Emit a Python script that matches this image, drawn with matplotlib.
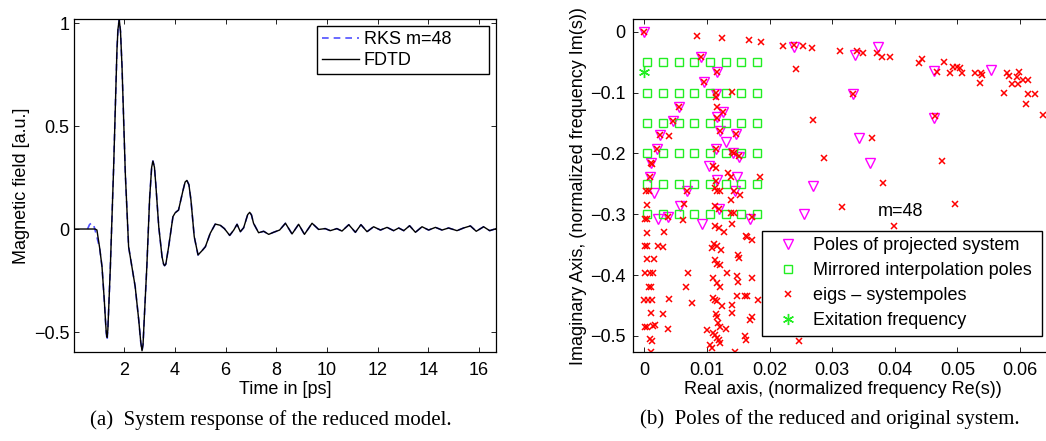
import numpy as np
import matplotlib
matplotlib.use('Agg')
import matplotlib.pyplot as plt

plt.rcParams['font.family'] = ['Liberation Sans', 'DejaVu Sans']
plt.rcParams['font.size'] = 13

## left plot: time signal
fdtd_t = [0.0, 0.55, 0.85, 0.92, 1.03, 1.12, 1.21, 1.26, 1.29, 1.32, 1.35, 1.38, 1.45, 1.58, 1.71, 1.75,
          1.80, 1.85, 1.91, 2.04, 2.17, 2.30, 2.43, 2.57, 2.65, 2.70, 2.74, 2.79, 2.89, 3.00, 3.08,
          3.13, 3.19, 3.24, 3.36, 3.49, 3.55, 3.59, 3.64, 3.75, 3.92, 4.01, 4.14, 4.32, 4.40, 4.47,
          4.55, 4.63, 4.76, 4.91, 5.07, 5.20, 5.39, 5.59, 5.79,
          5.95, 6.16, 6.32, 6.45, 6.58, 6.71, 6.87, 6.95, 7.02, 7.10, 7.30, 7.50, 7.70, 7.89, 8.13, 8.36,
          8.62, 8.88, 9.11, 9.41, 9.67, 9.93, 10.13, 10.39, 10.59, 10.86, 11.12, 11.34, 11.58,
          11.84, 12.11, 12.37, 12.63, 12.83, 13.03, 13.26, 13.49, 13.75, 14.01, 14.28, 14.54,
          14.80, 15.13, 15.39, 15.66, 15.89, 16.18, 16.42, 16.68]
fdtd_field = [0.0, 0.0, 0.0, -0.005, -0.094, -0.183, -0.345, -0.45, -0.505, -0.526, -0.49, -0.40, -0.183, 0.303, 0.869, 0.97,
              1.018, 0.96, 0.788, 0.270, -0.086, -0.183, -0.280, -0.442, -0.55, -0.591, -0.56, -0.43, -0.18, 0.15, 0.30,
              0.330, 0.30, 0.222, 0.011, -0.135, -0.170, -0.178, -0.170, -0.086, 0.060, 0.079, 0.092, 0.189, 0.228, 0.236,
              0.215, 0.141, -0.037, -0.126, -0.105, -0.086, -0.021, 0.024, 0.018,
              0.002, -0.031, -0.005, 0.023, -0.013, 0.006, 0.070, 0.081, 0.068, 0.028, -0.018, -0.011, -0.026, -0.016, -0.005, 0.028,
              -0.024, 0.023, -0.026, 0.028, -0.002, 0.002, -0.008, 0.002, -0.010, 0.021, -0.016, 0.021, -0.013,
              0.011, -0.005, 0.008, -0.008, 0.005, -0.008, 0.016, -0.016, 0.011, -0.005, 0.008, -0.005,
              0.005, -0.008, 0.005, 0.015, -0.011, 0.011, -0.008, 0.002]

# RKS differs only at the start and at the first minimum
rks_head_t = [0.55, 0.63, 0.72, 0.80, 0.88]
rks_head = [0.0, 0.022, 0.03, 0.015, -0.02]
rks_min_t = 1.32
rks_min = -0.54

## right plot: poles
proj_re = [0.0, 0.00905, 0.01155, 0.00953, 0.01144, 0.00559, 0.01251, 0.01166, 0.00463, 0.01208,
           0.0025, 0.01464, 0.01304, 0.00197, 0.01144, 0.01411, 0.01517, 0.00106, 0.01038, 0.0009,
           0.01155, 0.01485, 0.00154, 0.00676, 0.01453, 0.02688, 0.0057, 0.01198, 0.00224, 0.00383,
           0.00916, 0.01687, 0.0255, 0.0239, 0.0374, 0.0336, 0.0334, 0.0343, 0.0360, 0.0463,
           0.0463, 0.0554]
proj_im = [0.0, -0.041, -0.067, -0.082, -0.102, -0.124, -0.132, -0.140, -0.146, -0.163,
           -0.170, -0.168, -0.181, -0.193, -0.193, -0.200, -0.206, -0.216, -0.220, -0.238,
           -0.243, -0.239, -0.2645, -0.261, -0.261, -0.2535, -0.286, -0.292, -0.308, -0.305,
           -0.316, -0.307, -0.300, -0.0246, -0.0257, -0.0383, -0.103, -0.175, -0.215, -0.064,
           -0.141, -0.063]

mirror_re = [0.0005, 0.003, 0.0055, 0.008, 0.0105, 0.013, 0.0155, 0.018]
mirror_im = [-0.05, -0.1, -0.15, -0.2, -0.25, -0.3]

eigs_re = [0.0, 0.00846, 0.01235, 0.01671, 0.01858, 0.0222, 0.0239, 0.0253, 0.0268, 0.00905,
           0.01155, 0.0242, 0.00953, 0.01144, 0.01144, 0.01395, 0.00559, 0.01166, 0.01251, 0.01166,
           0.02688, 0.00463, 0.01208, 0.0025, 0.00399, 0.01464, 0.00197, 0.01144, 0.01395, 0.01437,
           0.01517, 0.0287, 0.00106, 0.00128, 0.0110, 0.01144, 0.0133, 0.01847, 0.0009, 0.01144,
           0.01384, 0.00027, 0.00069, 0.00676, 0.01128, 0.01166, 0.01208, 0.01437, 0.01528, 0.01379,
           0.00048, 0.00633, 0.01128, 0.01198, 0.01384, 0.01432, 0.0001, 0.00048, 0.00383, 0.00623,
           0.01714, 0.01395, 0.01128, 0.01198, 0.01278, 0.00048, 0.00319, 0.01618, 0.01645, 0.01725,
           0.0001, 0.00048, 0.00224, 0.00293, 0.01075, 0.01113, 0.01166, 0.01219, 0.00048, 0.00154,
           0.01128, 0.01166, 0.01208, 0.0149, 0.01512, 0.0001, 0.0009, 0.00144, 0.00692, 0.01325,
           0.0110, 0.01485, 0.01501, 0.01725, 0.01166, 0.01208, 0.00075, 0.00101, 0.00665, 0.0,
           0.00064, 0.00128, 0.00394, 0.00756, 0.0110, 0.01128, 0.01166, 0.01235, 0.01405, 0.01474,
           0.01608, 0.01645, 0.0182, 0.00101, 0.00303, 0.01144, 0.01166, 0.01395, 0.01687, 0.01714,
           0.0001, 0.00037, 0.00133, 0.0017, 0.00373, 0.00995, 0.01171, 0.01208, 0.01299, 0.0110,
           0.01128, 0.0009, 0.00117, 0.01166, 0.01198, 0.01208, 0.01608, 0.01618, 0.01049, 0.01086,
           0.00101, 0.01448, 0.0247, 0.0296, 0.0315, 0.0363, 0.0381, 0.0398, 0.0475, 0.0496,
           0.03125, 0.0339, 0.035, 0.0372, 0.0379, 0.0393, 0.0334, 0.0438, 0.0443, 0.0478,
           0.0467, 0.0464, 0.0488, 0.0493, 0.0499, 0.0504, 0.0508, 0.0528, 0.0537, 0.0539,
           0.0536, 0.0579, 0.0583, 0.0595, 0.0599, 0.0588, 0.0597, 0.0605, 0.0612, 0.0574,
           0.0613, 0.0624, 0.0610, 0.0637]
eigs_im = [0.0, -0.0066, -0.0099, -0.0137, -0.0164, -0.023, -0.0219, -0.023, -0.0263, -0.041,
           -0.067, -0.0613, -0.082, -0.101, -0.107, -0.0997, -0.124, -0.124, -0.132, -0.141,
           -0.145, -0.146, -0.163, -0.170, -0.171, -0.168, -0.192, -0.193, -0.198, -0.200,
           -0.205, -0.208, -0.215, -0.217, -0.220, -0.2245, -0.232, -0.239, -0.238, -0.246,
           -0.238, -0.261, -0.261, -0.261, -0.257, -0.261, -0.261, -0.261, -0.268, -0.277,
           -0.284, -0.283, -0.286, -0.292, -0.298, -0.298, -0.307, -0.307, -0.305, -0.309,
           -0.305, -0.316, -0.319, -0.322, -0.329, -0.330, -0.329, -0.336, -0.338, -0.342,
           -0.352, -0.352, -0.352, -0.354, -0.356, -0.349, -0.352, -0.359, -0.374, -0.374,
           -0.375, -0.381, -0.384, -0.367, -0.372, -0.396, -0.396, -0.397, -0.397, -0.397,
           -0.405, -0.401, -0.412, -0.404, -0.413, -0.419, -0.419, -0.419, -0.420, -0.441,
           -0.441, -0.441, -0.440, -0.445, -0.437, -0.441, -0.442, -0.451, -0.449, -0.434,
           -0.434, -0.434, -0.441, -0.463, -0.464, -0.464, -0.468, -0.463, -0.473, -0.468,
           -0.485, -0.486, -0.484, -0.482, -0.489, -0.490, -0.479, -0.485, -0.489, -0.495,
           -0.498, -0.5055, -0.5077, -0.504, -0.5066, -0.511, -0.4995, -0.5066, -0.5148, -0.520,
           -0.5257, -0.527, -0.5077, -0.490, -0.2885, -0.175, -0.2486, -0.3197, -0.212, -0.283,
           -0.0312, -0.0312, -0.0355, -0.0355, -0.041, -0.042, -0.103, -0.052, -0.0454, -0.0492,
           -0.0657, -0.1386, -0.0673, -0.0574, -0.0574, -0.060, -0.0673, -0.0673, -0.0673, -0.071,
           -0.0837, -0.0673, -0.0728, -0.075, -0.0657, -0.086, -0.086, -0.079, -0.079, -0.100,
           -0.102, -0.102, -0.119, -0.137]

excite_re = [0.0]
excite_im = [-0.0667]

W, H = 1046, 441
fig = plt.figure(figsize=(W / 100, H / 100), dpi=100)


def style_axes(ax):
    ax.tick_params(direction='in', top=True, right=True, length=3.5, width=0.6)
    for s in ax.spines.values():
        s.set_linewidth(0.9)


## (a) system response
ax1 = fig.add_axes([73.7 / W, 1 - 352 / H, (496 - 73.7) / W, (352 - 19.3) / H])
rks_t = rks_head_t + [t for t in fdtd_t if t >= 1.0]
rks_field = rks_head + [rks_min if t == rks_min_t else v for t, v in zip(fdtd_t, fdtd_field) if t >= 1.0]
ax1.plot(rks_t, rks_field, color='#5050ff', linestyle='--', linewidth=1.2, dashes=(4, 3), label='RKS m=48')
ax1.plot(fdtd_t, fdtd_field, color='black', linewidth=1.0, label='FDTD')
ax1.set_xlim(0.003, 16.67)
ax1.set_ylim(-0.597, 1.018)
ax1.set_xticks([2, 4, 6, 8, 10, 12, 14, 16])
ax1.set_yticks([-0.5, 0, 0.5, 1])
ax1.set_yticklabels(['\u22120.5', '0', '0.5', '1'])
ax1.set_xlabel('Time in [ps]', labelpad=2)
ax1.set_ylabel('Magnetic field [a.u.]', labelpad=3)
style_axes(ax1)
ax1.tick_params(axis='x', pad=7)
ax1.tick_params(axis='y', pad=3)
leg1 = ax1.legend(loc='upper left', bbox_to_anchor=(316.7 / W, 1 - 26 / H, (489.3 - 316.7) / W, 0.0),
                  bbox_transform=fig.transFigure, mode='expand',
                  borderaxespad=0, fancybox=False, framealpha=1, edgecolor='black',
                  handlelength=2.05, handletextpad=0.25, labelspacing=0.2, borderpad=0.3)
leg1.get_frame().set_linewidth(1.0)

## (b) poles
ax2 = fig.add_axes([632.7 / W, 1 - 352 / H, (1054 - 632.7) / W, (352 - 19.3) / H])
ax2.plot(proj_re, proj_im, linestyle='none', marker='v', markersize=7.5, markerfacecolor='none',
         markeredgecolor='#ff00ff', markeredgewidth=1.0, label='Poles of projected system')
grid_re, grid_im = np.meshgrid(mirror_re, mirror_im)
ax2.plot(grid_re.ravel(), grid_im.ravel(), linestyle='none', marker='s', markersize=5.5, markerfacecolor='none',
         markeredgecolor='#22ee22', markeredgewidth=1.0, label='Mirrored interpolation poles')
ax2.plot(eigs_re, eigs_im, linestyle='none', marker='x', markersize=4.8, color='#ff0000',
         markeredgewidth=1.1, label='eigs \u2013 systempoles')
ax2.plot(excite_re, excite_im, linestyle='none', marker=(6, 2, 0), markersize=8, color='#22ee22',
         markeredgewidth=1.0, label='Exitation frequency')
ax2.text(0.041, -0.295, 'm=48', ha='center', va='center')
ax2.set_xlim(-0.00185, 0.06543)
ax2.set_ylim(-0.5263, 0.0204)
ax2.set_xticks([0, 0.01, 0.02, 0.03, 0.04, 0.05, 0.06])
ax2.set_xticklabels(['0', '0.01', '0.02', '0.03', '0.04', '0.05', '0.06'])
ax2.set_yticks([-0.5, -0.4, -0.3, -0.2, -0.1, 0])
ax2.set_yticklabels(['\u22120.5', '\u22120.4', '\u22120.3', '\u22120.2', '\u22120.1', '0'])
ax2.set_xlabel('Real axis, (normalized frequency Re(s))', labelpad=2)
ax2.set_ylabel('Imaginary Axis, (normalized frequency Im(s))', labelpad=2)
style_axes(ax2)
ax2.tick_params(axis='x', pad=7)
ax2.tick_params(axis='y', pad=5)
leg2 = ax2.legend(loc='upper left', bbox_to_anchor=(761.7 / W, 1 - 230.7 / H, (1042.3 - 761.7) / W, 0.0),
                  bbox_transform=fig.transFigure, mode='expand',
                  borderaxespad=0, fancybox=False, framealpha=1, edgecolor='black',
                  handlelength=2.25, handletextpad=0.23, labelspacing=0.45, borderpad=0.35)
leg2.get_frame().set_linewidth(1.0)

## captions
fig.text(271 / W, 1 - 420 / H, '(a)  System response of the reduced model.', ha='center', va='center',
         fontsize=15, family=['Liberation Serif', 'DejaVu Serif'])
fig.text(829.5 / W, 1 - 419 / H, '(b)  Poles of the reduced and original system.', ha='center', va='center',
         fontsize=15, family=['Liberation Serif', 'DejaVu Serif'])

plt.savefig('out.png', dpi=100)
